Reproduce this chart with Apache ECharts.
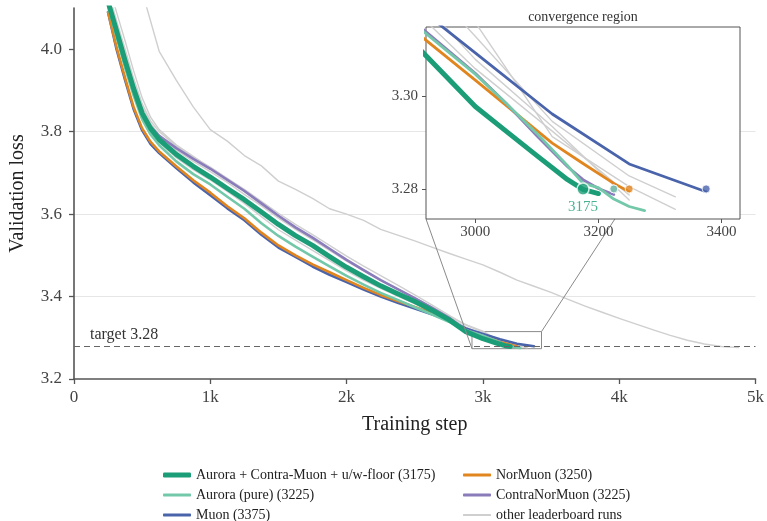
<!DOCTYPE html>
<html>
<head>
<meta charset="utf-8">
<script src="https://cdn.jsdelivr.net/npm/echarts@6/dist/echarts.min.js"></script>
<style>
  html, body { margin: 0; padding: 0; background: #fff; }
  #chart { width: 767px; height: 521px; }
</style>
</head>
<body>
<div id="chart"></div>
<script>
// Validation loss vs training step, [step, loss] pairs per run.
const auroraContra = [[250,4.115],[312,4.045],[375,3.972],[437,3.905],[500,3.845],[562,3.808],[625,3.781],[750,3.745],[875,3.716],[1000,3.69],[1125,3.662],[1250,3.635],[1375,3.605],[1500,3.575],[1625,3.548],[1750,3.524],[1875,3.497],[2000,3.471],[2125,3.448],[2250,3.426],[2375,3.407],[2500,3.388],[2625,3.367],[2750,3.344],[2875,3.315],[3000,3.2978],[3050,3.2925],[3100,3.2872],[3150,3.282],[3175,3.2799],[3200,3.279]];
const auroraPure = [[250,4.105],[312,4.03],[375,3.955],[437,3.888],[500,3.83],[562,3.793],[625,3.767],[750,3.728],[875,3.697],[1000,3.672],[1125,3.642],[1250,3.613],[1375,3.578],[1500,3.547],[1625,3.521],[1750,3.497],[1875,3.473],[2000,3.45],[2125,3.429],[2250,3.409],[2375,3.392],[2500,3.374],[2625,3.357],[2750,3.339],[2875,3.3185],[3000,3.3048],[3050,3.2985],[3100,3.292],[3150,3.285],[3175,3.2812],[3200,3.2803],[3225,3.2778],[3250,3.2762],[3275,3.2753]];
const contraNorMuon = [[250,4.115],[312,4.045],[375,3.972],[437,3.905],[500,3.847],[562,3.812],[625,3.79],[750,3.76],[875,3.734],[1000,3.71],[1125,3.683],[1250,3.656],[1375,3.626],[1500,3.596],[1625,3.568],[1750,3.543],[1875,3.516],[2000,3.489],[2125,3.464],[2250,3.44],[2375,3.418],[2500,3.396],[2625,3.373],[2750,3.349],[2875,3.319],[3000,3.305],[3050,3.2985],[3100,3.2915],[3150,3.2848],[3175,3.282],[3200,3.2801],[3225,3.2788]];
const norMuon = [[250,4.09],[312,4.005],[375,3.93],[437,3.86],[500,3.808],[562,3.775],[625,3.752],[750,3.716],[875,3.682],[1000,3.652],[1125,3.619],[1250,3.59],[1375,3.555],[1500,3.524],[1625,3.5],[1750,3.478],[1875,3.459],[2000,3.44],[2125,3.421],[2250,3.404],[2375,3.389],[2500,3.375],[2625,3.36],[2750,3.344],[2875,3.317],[3000,3.3035],[3125,3.2899],[3175,3.2855],[3225,3.2812],[3250,3.2794]];
const muon = [[250,4.09],[312,4.0],[375,3.925],[437,3.855],[500,3.803],[562,3.77],[625,3.748],[750,3.712],[875,3.677],[1000,3.646],[1125,3.614],[1250,3.585],[1375,3.55],[1500,3.519],[1625,3.496],[1750,3.473],[1875,3.453],[2000,3.435],[2125,3.417],[2250,3.4],[2375,3.385],[2500,3.371],[2625,3.357],[2750,3.342],[2875,3.3226],[3000,3.3094],[3125,3.2962],[3250,3.2854],[3375,3.2794]];
const otherRunA = [[250,4.14],[312,4.07],[375,4.0],[437,3.93],[500,3.868],[562,3.826],[625,3.8],[750,3.765],[875,3.738],[1000,3.714],[1125,3.687],[1250,3.66],[1375,3.631],[1500,3.602],[1625,3.575],[1750,3.55],[1875,3.524],[2000,3.498],[2125,3.474],[2250,3.451],[2375,3.428],[2500,3.404],[2625,3.38],[2750,3.355],[2875,3.331],[3000,3.313],[3125,3.2946],[3250,3.2828],[3325,3.2783]];
const otherRunB = [[250,4.13],[312,4.06],[375,3.99],[437,3.92],[500,3.86],[562,3.82],[625,3.792],[750,3.755],[875,3.728],[1000,3.703],[1125,3.677],[1250,3.648],[1375,3.62],[1500,3.59],[1625,3.563],[1750,3.538],[1875,3.512],[2000,3.486],[2125,3.462],[2250,3.44],[2375,3.418],[2500,3.397],[2625,3.375],[2750,3.352],[2875,3.332],[3000,3.316],[3125,3.2913],[3250,3.2805],[3325,3.2756]];
const otherRunC = [[250,4.11],[312,4.04],[375,3.965],[437,3.897],[500,3.838],[562,3.8],[625,3.774],[750,3.737],[875,3.708],[1000,3.683],[1125,3.655],[1250,3.626],[1375,3.594],[1500,3.562],[1625,3.537],[1750,3.512],[1875,3.487],[2000,3.462],[2125,3.44],[2250,3.42],[2375,3.401],[2500,3.383],[2625,3.365],[2750,3.345],[2875,3.322],[3000,3.306],[3125,3.2925],[3250,3.2787]];
const otherRunD = [[250,4.16],[312,4.09],[375,4.02],[437,3.948],[500,3.882],[562,3.835],[625,3.805],[750,3.768],[875,3.74],[1000,3.712],[1125,3.684],[1250,3.655],[1375,3.624],[1500,3.594],[1625,3.566],[1750,3.54],[1875,3.513],[2000,3.487],[2125,3.463],[2250,3.44],[2375,3.418],[2500,3.397],[2625,3.374],[2750,3.35],[2875,3.326],[3000,3.308],[3125,3.2935],[3250,3.2776]];
const otherRunSlow = [[500,4.14],[625,3.995],[750,3.925],[875,3.86],[1000,3.805],[1125,3.777],[1250,3.742],[1375,3.717],[1500,3.68],[1625,3.66],[1750,3.638],[1875,3.613],[2000,3.6],[2125,3.585],[2250,3.563],[2375,3.549],[2500,3.535],[2625,3.52],[2750,3.505],[2875,3.491],[3000,3.477],[3125,3.459],[3250,3.44],[3375,3.425],[3500,3.41],[3625,3.393],[3750,3.377],[3875,3.362],[4000,3.347],[4125,3.333],[4250,3.319],[4375,3.306],[4500,3.294],[4625,3.285],[4750,3.279],[4875,3.276]];

// Steps at which each run first reaches the target loss.
const targetLoss = 3.28;
const stepsToTarget = { green: 3175, teal: 3225, orange: 3250, purple: 3225, blue: 3375 };

// Tick values.
const mainXTicks = [0, 1000, 2000, 3000, 4000, 5000];
const mainYTicks = [3.2, 3.4, 3.6, 3.8, 4.0];
const insetXTicks = [3000, 3200, 3400];
const insetYTicks = [3.28, 3.30];

// Zoomed window shown in the inset.
const zoomSteps = [2920, 3430];
const zoomLoss = [3.2735, 3.315];

const FONT = 'Liberation Serif';
const C = {
  green: '#1b9e77', teal: '#74c8aa', blue: '#4a64ac', orange: '#e1851f',
  purple: '#8a7cba', gray: '#cfcfcf'
};
const NAMES = {
  green: 'Aurora + Contra-Muon + u/w-floor (3175)',
  teal: 'Aurora (pure) (3225)',
  blue: 'Muon (3375)',
  orange: 'NorMuon (3250)',
  purple: 'ContraNorMuon (3225)',
  gray: 'other leaderboard runs'
};

function line(name, data, color, width, inset, z) {
  return {
    type: 'line', name, data,
    xAxisIndex: inset ? 1 : 0, yAxisIndex: inset ? 1 : 0,
    showSymbol: false, symbol: 'none', silent: true,
    lineStyle: { color, width, cap: 'round', join: 'round' },
    itemStyle: { color },
    z: inset ? 12 + z * 0.1 : 2 + z * 0.1,
    animation: false
  };
}

const runs = [
  ['gray', otherRunSlow, 1.4], ['gray', otherRunA, 1.4], ['gray', otherRunB, 1.4],
  ['gray', otherRunC, 1.4], ['gray', otherRunD, 1.4],
  ['blue', muon, 2.6], ['orange', norMuon, 2.6], ['purple', contraNorMuon, 2.6],
  ['teal', auroraPure, 2.6], ['green', auroraContra, 5]
];

const series = [];
runs.forEach((r, i) => {
  series.push(line(NAMES[r[0]], r[1], C[r[0]], r[2], false, i));
});
runs.forEach((r, i) => {
  if (r[1] === otherRunSlow) return;
  series.push(line(NAMES[r[0]], r[1], C[r[0]], r[0] === 'green' ? 5 : (r[0] === 'gray' ? 1.4 : 2.8), true, i));
});

// Target line + zoom window box on the main axes.
series[5].markLine = {
  silent: true, symbol: 'none', animation: false,
  lineStyle: { type: [6, 4], color: '#666', width: 1.2 },
  label: { show: true, position: 'insideStartTop', formatter: 'target 3.28',
           fontFamily: FONT, fontSize: 16, color: '#333', distance: [16, 3] },
  data: [{ yAxis: targetLoss }]
};
series[0].markArea = {
  silent: true, animation: false,
  itemStyle: { color: 'rgba(0,0,0,0)', borderColor: '#8a8a8a', borderWidth: 1 },
  data: [[{ xAxis: zoomSteps[0], yAxis: zoomLoss[1] }, { xAxis: zoomSteps[1], yAxis: zoomLoss[0] }]]
};

// Target line inside the inset.
series.push({
  type: 'line', xAxisIndex: 1, yAxisIndex: 1, data: [], z: 12, silent: true,
  markLine: {
    silent: true, symbol: 'none', animation: false,
    lineStyle: { type: [6, 4], color: '#777', width: 1.2 },
    label: { show: false },
    data: [{ yAxis: targetLoss }]
  }
});

// Markers where each run reaches the target.
const dotOrder = ['purple', 'blue', 'orange', 'teal'];
dotOrder.forEach(k => {
  series.push({
    type: 'scatter', xAxisIndex: 1, yAxisIndex: 1, silent: true, z: 14,
    data: [[stepsToTarget[k], targetLoss]], symbolSize: 8,
    itemStyle: { color: C[k], borderColor: '#fff', borderWidth: 1 },
    animation: false
  });
});
series.push({
  type: 'scatter', xAxisIndex: 1, yAxisIndex: 1, silent: true, z: 15,
  data: [[stepsToTarget.green, targetLoss]], symbolSize: 12,
  itemStyle: { color: C.green, borderColor: '#fff', borderWidth: 1.5 },
  label: { show: true, position: 'bottom', distance: 4, formatter: p => String(p.value[0]),
           fontFamily: FONT, fontSize: 15, color: C.green },
  animation: false
});

function legendAt(key, left, top, h) {
  return {
    left, top, itemWidth: 28, itemHeight: h, itemGap: 0,
    selectedMode: false,
    data: [{ name: NAMES[key], icon: 'roundRect', itemStyle: { color: C[key] } }],
    textStyle: { fontFamily: FONT, fontSize: 14, color: '#222' }
  };
}

const axisText = { fontFamily: FONT, color: '#444' };

const option = {
  animation: false,
  backgroundColor: '#fff',
  grid: [
    { left: 74, right: 9, top: 8, bottom: 142 },
    { left: 426, top: 27, width: 314, height: 192, show: true, backgroundColor: '#fff',
      borderColor: '#555', borderWidth: 1, z: 10 }
  ],
  xAxis: [
    { type: 'value', gridIndex: 0, min: 0, max: 5000, interval: 1000,
      name: 'Training step', nameLocation: 'middle', nameGap: 36,
      nameTextStyle: { fontFamily: FONT, fontSize: 20, color: '#222' },
      axisLine: { show: true, lineStyle: { color: '#555', width: 1.6 } },
      axisTick: { show: true, length: 5, lineStyle: { color: '#555', width: 1.3 }, customValues: mainXTicks },
      axisLabel: { ...axisText, fontSize: 17, margin: 10, customValues: mainXTicks,
        formatter: v => v === 0 ? '0' : (v / 1000) + 'k' },
      splitLine: { show: false } },
    { type: 'value', gridIndex: 1, min: zoomSteps[0], max: zoomSteps[1], z: 11,
      axisLine: { show: false },
      axisTick: { show: true, length: 4, lineStyle: { color: '#555' }, customValues: insetXTicks },
      axisLabel: { ...axisText, fontSize: 15, margin: 6, customValues: insetXTicks,
        formatter: v => String(v) },
      splitLine: { show: false } }
  ],
  yAxis: [
    { type: 'value', gridIndex: 0, min: 3.2, max: 4.1, interval: 0.2,
      name: 'Validation loss', nameLocation: 'middle', nameGap: 46,
      nameTextStyle: { fontFamily: FONT, fontSize: 20, color: '#222' },
      axisLine: { show: true, lineStyle: { color: '#555', width: 1.6 } },
      axisTick: { show: true, length: 5, lineStyle: { color: '#555', width: 1.3 }, customValues: mainYTicks },
      axisLabel: { ...axisText, fontSize: 17, margin: 12, customValues: mainYTicks,
        formatter: v => v.toFixed(1) },
      splitLine: { show: true, showMinLine: false, showMaxLine: false,
        lineStyle: { color: '#e6e6e6', width: 1 } } },
    { type: 'value', gridIndex: 1, min: zoomLoss[0], max: zoomLoss[1], z: 11,
      axisLine: { show: false },
      axisTick: { show: true, length: 4, lineStyle: { color: '#555' }, customValues: insetYTicks },
      axisLabel: { ...axisText, fontSize: 15, margin: 8, customValues: insetYTicks,
        formatter: v => v.toFixed(2) },
      splitLine: { show: false } }
  ],
  legend: [
    legendAt('green', 158, 463, 5),
    legendAt('teal', 158, 483, 3),
    legendAt('blue', 158, 503, 3),
    legendAt('orange', 458, 463, 3),
    legendAt('purple', 458, 483, 3),
    legendAt('gray', 458, 503, 2)
  ],
  series
};

const chart = echarts.init(document.getElementById('chart'), null, { renderer: 'canvas' });
chart.setOption(option);

// Connector lines between the zoom box and the inset, plus the inset caption.
const rectBL = chart.convertToPixel({ gridIndex: 0 }, [zoomSteps[0], zoomLoss[0]]);
const insetBL = chart.convertToPixel({ gridIndex: 1 }, [zoomSteps[0], zoomLoss[0]]);
const rectTR = chart.convertToPixel({ gridIndex: 0 }, [zoomSteps[1], zoomLoss[1]]);
const insetTR = chart.convertToPixel({ gridIndex: 1 }, [zoomSteps[1], zoomLoss[1]]);
const insetTL = chart.convertToPixel({ gridIndex: 1 }, [zoomSteps[0], zoomLoss[1]]);
chart.setOption({
  graphic: [
    { type: 'line', z: 5, silent: true,
      shape: { x1: rectBL[0], y1: rectBL[1], x2: insetBL[0], y2: insetBL[1] },
      style: { stroke: '#8a8a8a', lineWidth: 1 } },
    { type: 'line', z: 5, silent: true,
      shape: { x1: rectTR[0], y1: rectTR[1], x2: insetTR[0], y2: insetTR[1] },
      style: { stroke: '#8a8a8a', lineWidth: 1 } },
    { type: 'text', z: 20, silent: true,
      x: (insetTL[0] + insetTR[0]) / 2, y: insetTL[1] - 3,
      style: { text: 'convergence region', fontFamily: FONT, fontSize: 14, fill: '#333',
               textAlign: 'center', textVerticalAlign: 'bottom' } }
  ]
});
</script>
</body>
</html>
